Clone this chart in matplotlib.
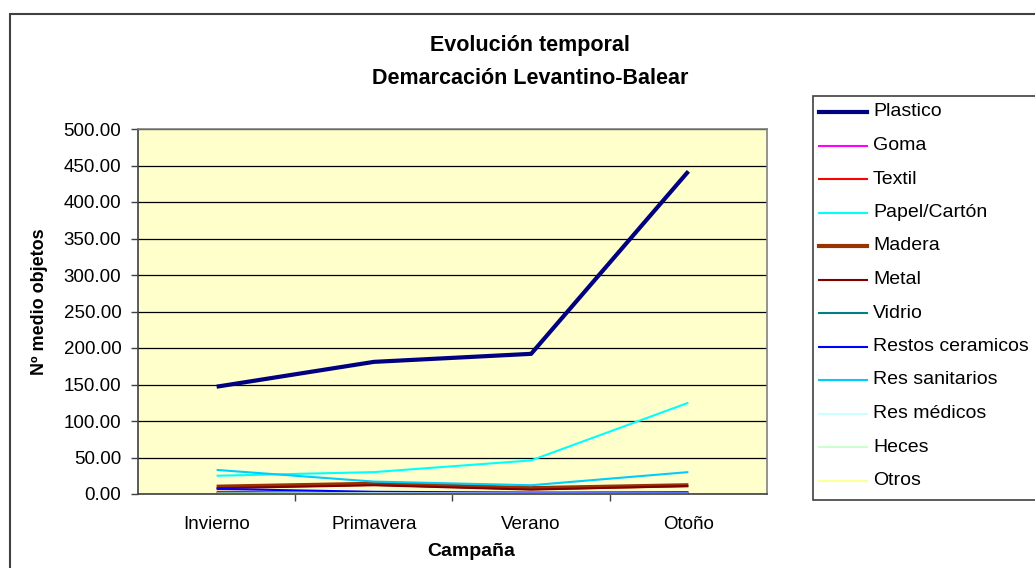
import matplotlib
matplotlib.use("Agg")
import matplotlib.pyplot as plt
from matplotlib.lines import Line2D
from matplotlib.patches import Rectangle

plt.rcParams['font.family'] = ['Liberation Sans', 'DejaVu Sans']

campanas = ["Invierno", "Primavera", "Verano", "Otoño"]
series_names = ["Plastico", "Goma", "Textil", "Papel/Cartón", "Madera", "Metal",
                "Vidrio", "Restos ceramicos", "Res sanitarios", "Res médicos",
                "Heces", "Otros"]
plastico = [147, 181, 192, 442]
goma = [0.5, 0.3, 0.2, 0.3]
textil = [3, 1, 0.5, 1]
papel = [25, 30, 46, 125]
madera = [10, 14, 8, 12]
metal = [8, 12, 6, 11]
vidrio = [1, 1, 1, 2.5]
restos_ceramicos = [7, 3, 2, 2]
res_sanitarios = [33, 17, 12, 30]
res_medicos = [0.5, 1, 0.5, 0.5]
heces = [0.2, 0.2, 0.2, 0.2]
otros = [0.5, 0.5, 0.5, 0.5]
values = [plastico, goma, textil, papel, madera, metal, vidrio,
          restos_ceramicos, res_sanitarios, res_medicos, heces, otros]
colors = ["#000080", "#FF00FF", "#FF0000", "#00FFFF", "#993300", "#800000",
          "#008080", "#0000FF", "#00CCFF", "#CCFFFF", "#CCFFCC", "#FFFF99"]
widths = [3, 1.5, 1.5, 1.5, 3, 1.5, 1.5, 1.5, 1.5, 1.5, 1.5, 1.5]
yticks = [0, 50, 100, 150, 200, 250, 300, 350, 400, 450, 500]

W, H = 1035, 568
fig = plt.figure(figsize=(W / 100, H / 100), dpi=100)
fig.patch.set_facecolor("white")

def fx(px):
    return px / W

def fy(py):
    return 1 - py / H

# outer chart border
fig.add_artist(Rectangle((fx(10), fy(600)), fx(1100), fy(14) - fy(600),
                         transform=fig.transFigure, fill=False,
                         edgecolor="#404040", linewidth=1.5))

left, right, top, bottom = 138, 767, 129, 494
ax = fig.add_axes([fx(left), fy(bottom), fx(right - left), fy(top) - fy(bottom)])
ax.set_facecolor("#FFFFCC")

x = list(range(len(campanas)))
for name, vals, c, lw in zip(series_names, values, colors, widths):
    ax.plot(x, vals, color=c, linewidth=lw, solid_capstyle="butt", clip_on=False)

ax.set_xlim(-0.5, len(campanas) - 0.5)
ax.set_ylim(0, 500)
ax.set_yticks(yticks)
ax.set_yticklabels([f"{v:.2f}" for v in yticks], fontsize=13.5)
ax.yaxis.grid(True, color="black", linewidth=0.9)
ax.set_axisbelow(True)
ax.tick_params(axis="y", length=5, width=1, color="#404040", pad=7)

ax.set_xticks(x)
ax.set_xticklabels(campanas, fontsize=13.5)
ax.tick_params(axis="x", which="major", length=0, pad=16)
ax.set_xticks([0.5, 1.5, 2.5], minor=True)
ax.tick_params(axis="x", which="minor", length=5, width=1, color="#404040")

for s in ["top", "right"]:
    ax.spines[s].set_color("#808080")
    ax.spines[s].set_linewidth(1.2)
for s in ["left", "bottom"]:
    ax.spines[s].set_color("#404040")
    ax.spines[s].set_linewidth(1.2)

fig.text(fx(40), fy(302), "Nº medio objetos", rotation=90, ha="center", va="center",
         fontsize=13, fontweight="bold")
fig.text(fx(471), fy(552), "Campaña", ha="center", va="center",
         fontsize=14, fontweight="bold")

fig.text(fx(530), fy(46), "Evolución temporal", ha="center", va="center",
         fontsize=15.5, fontweight="bold")
fig.text(fx(530), fy(78), "Demarcación Levantino-Balear", ha="center", va="center",
         fontsize=15.5, fontweight="bold")

# legend box
lg_left, lg_top, lg_bottom = 813, 96, 500
fig.add_artist(Rectangle((fx(lg_left), fy(lg_bottom)), fx(300), fy(lg_top) - fy(lg_bottom),
                         transform=fig.transFigure, facecolor="white",
                         edgecolor="#404040", linewidth=1.2))
row0, step = 112, 33.5
for i, (name, c, lw) in enumerate(zip(series_names, colors, widths)):
    yy = fy(row0 + i * step)
    fig.add_artist(Line2D([fx(819), fx(867)], [yy, yy], transform=fig.transFigure,
                          color=c, linewidth=lw))
    fig.text(fx(873), yy, name, ha="left", va="center", fontsize=14)

fig.savefig("out.png", dpi=100)
